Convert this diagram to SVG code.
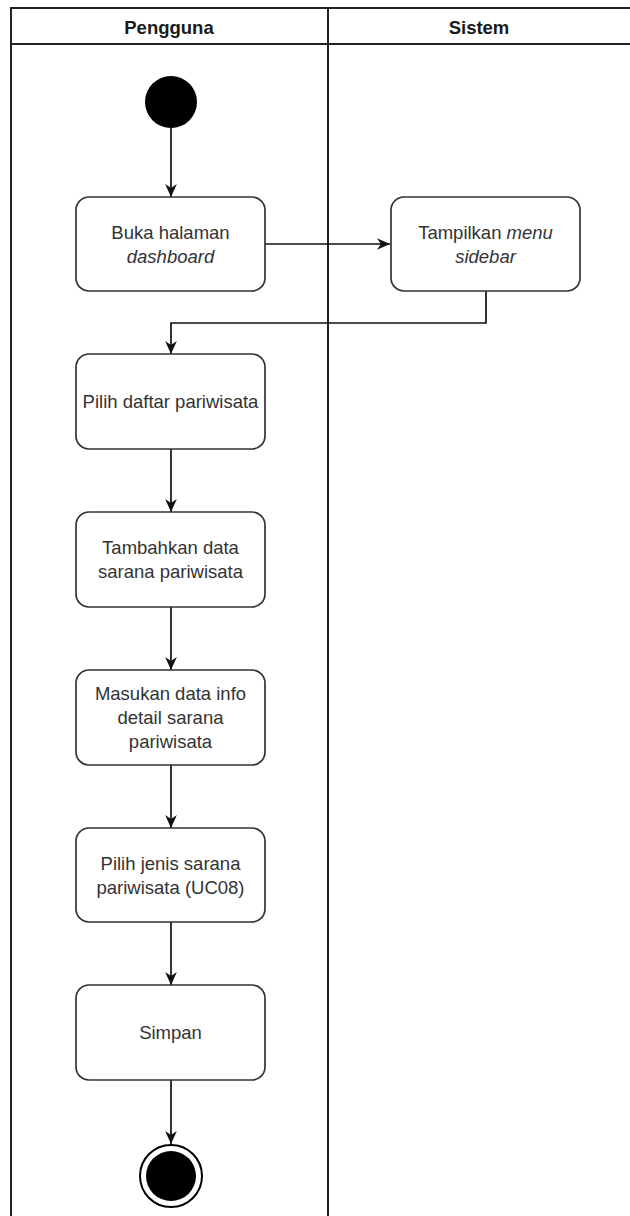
<svg xmlns="http://www.w3.org/2000/svg" width="630" height="1216" viewBox="0 0 630 1216">
  <style>
    .lane { fill: none; stroke: #222; stroke-width: 2; }
    .hdr { font-family: "Liberation Sans", Arial, sans-serif; font-size: 18.5px; font-weight: bold; fill: #1a1a1a; text-anchor: middle; }
    .act { fill: #fff; stroke: #333; stroke-width: 1.7; }
    .lbl { font-family: "Liberation Sans", Arial, sans-serif; font-size: 18.5px; fill: #333; text-anchor: middle; }
    .flow { fill: none; stroke: #111; stroke-width: 1.7; }
  </style>
  <defs>
    <marker id="arrow" viewBox="0 0 10 10" refX="10" refY="5" markerWidth="13" markerHeight="13" markerUnits="userSpaceOnUse" orient="auto">
      <path d="M0,0.5 L10,5 L0,9.5 L3,5 Z" fill="#111"/>
    </marker>
  </defs>
  <rect width="630" height="1216" fill="#fff"/>

  <!-- swimlanes -->
  <g id="swimlanes">
    <rect class="lane" x="11" y="8" width="640" height="1230"/>
    <line class="lane" x1="11" y1="44" x2="630" y2="44"/>
    <line class="lane" x1="328" y1="8" x2="328" y2="1216"/>
    <text class="hdr" x="169" y="34">Pengguna</text>
    <text class="hdr" x="479" y="34">Sistem</text>
  </g>

  <!-- connectors -->
  <g id="connectors">
    <line class="flow" x1="171" y1="128" x2="171" y2="197" marker-end="url(#arrow)"/>
    <line class="flow" x1="265" y1="244" x2="390" y2="244" marker-end="url(#arrow)"/>
    <polyline class="flow" points="486,291 486,323 171,323 171,354" marker-end="url(#arrow)"/>
    <line class="flow" x1="171" y1="449" x2="171" y2="512" marker-end="url(#arrow)"/>
    <line class="flow" x1="171" y1="607" x2="171" y2="670" marker-end="url(#arrow)"/>
    <line class="flow" x1="171" y1="765" x2="171" y2="828" marker-end="url(#arrow)"/>
    <line class="flow" x1="171" y1="922" x2="171" y2="985" marker-end="url(#arrow)"/>
    <line class="flow" x1="171" y1="1080" x2="171" y2="1144" marker-end="url(#arrow)"/>
  </g>

  <g id="start">
    <circle cx="171" cy="102" r="26" fill="#000"/>
  </g>

  <g id="buka-dashboard">
    <rect class="act" x="76" y="197" width="189" height="94" rx="13"/>
    <text class="lbl" x="170.5" y="239">Buka halaman</text>
    <text class="lbl" x="170.5" y="263" font-style="italic">dashboard</text>
  </g>

  <g id="tampilkan-menu">
    <rect class="act" x="391" y="197" width="189" height="94" rx="13"/>
    <text class="lbl" x="485.5" y="239">Tampilkan <tspan font-style="italic">menu</tspan></text>
    <text class="lbl" x="485.5" y="263" font-style="italic">sidebar</text>
  </g>

  <g id="pilih-daftar">
    <rect class="act" x="76" y="354" width="189" height="95" rx="13"/>
    <text class="lbl" x="170.5" y="408">Pilih daftar pariwisata</text>
  </g>

  <g id="tambahkan-data">
    <rect class="act" x="76" y="512" width="189" height="95" rx="13"/>
    <text class="lbl" x="170.5" y="554">Tambahkan data</text>
    <text class="lbl" x="170.5" y="578">sarana pariwisata</text>
  </g>

  <g id="masukan-data">
    <rect class="act" x="76" y="670" width="189" height="95" rx="13"/>
    <text class="lbl" x="170.5" y="700">Masukan data info</text>
    <text class="lbl" x="170.5" y="724">detail sarana</text>
    <text class="lbl" x="170.5" y="748">pariwisata</text>
  </g>

  <g id="pilih-jenis">
    <rect class="act" x="76" y="828" width="189" height="94" rx="13"/>
    <text class="lbl" x="170.5" y="870">Pilih jenis sarana</text>
    <text class="lbl" x="170.5" y="894">pariwisata (UC08)</text>
  </g>

  <g id="simpan">
    <rect class="act" x="76" y="985" width="189" height="95" rx="13"/>
    <text class="lbl" x="170.5" y="1039">Simpan</text>
  </g>

  <g id="end">
    <circle cx="171" cy="1176" r="31" fill="#fff" stroke="#000" stroke-width="2"/>
    <circle cx="171" cy="1176" r="25" fill="#000"/>
  </g>
</svg>
